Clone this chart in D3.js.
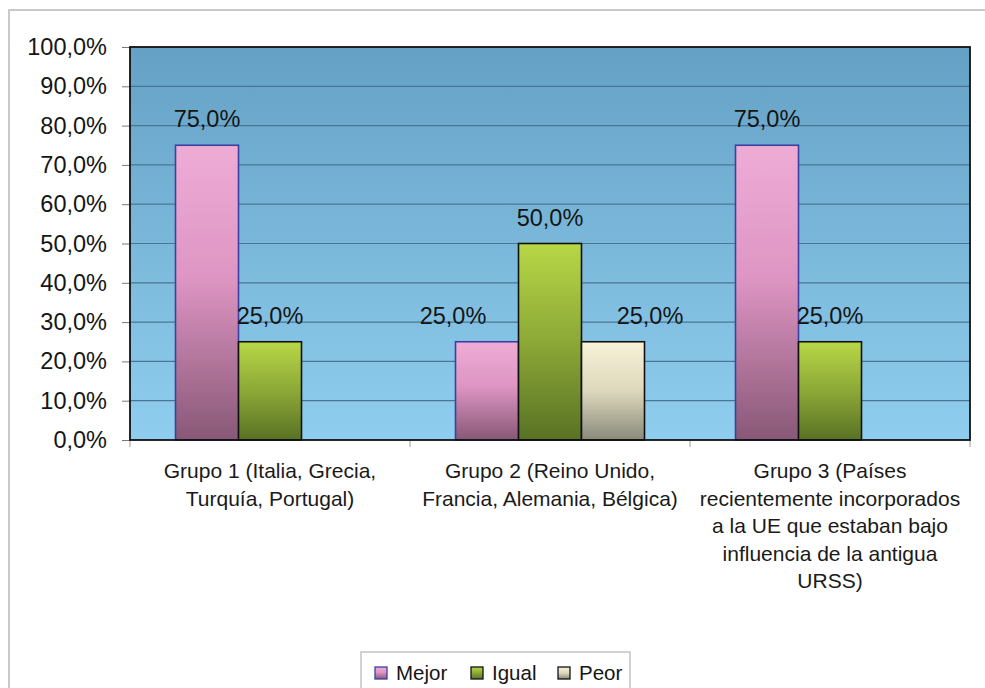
<!DOCTYPE html>
<html><head><meta charset="utf-8">
<script src="https://cdn.jsdelivr.net/npm/d3@7/dist/d3.min.js"></script>
<style>html,body{margin:0;padding:0;background:#fff;}svg{display:block;}</style>
</head><body><svg id="c" width="985" height="688"></svg>
<script>
const categories = [
  ["Grupo 1 (Italia, Grecia,", "Turquía, Portugal)"],
  ["Grupo 2 (Reino Unido,", "Francia, Alemania, Bélgica)"],
  ["Grupo 3 (Países", "recientemente incorporados", "a la UE que estaban bajo", "influencia de la antigua", "URSS)"]
];
const seriesNames = ["Mejor", "Igual", "Peor"];
const mejor = [75, 25, 75];
const igual = [25, 50, 25];
const peor = [0, 25, 0];
const yTicks = [0, 10, 20, 30, 40, 50, 60, 70, 80, 90, 100];

const series = [mejor, igual, peor];
const fmt = v => v.toFixed(1).replace(".", ",") + "%";
const font = "'Liberation Sans', Arial, sans-serif";

const svg = d3.select("#c");
const L = 130, R = 970, T = 47, B = 440;

// outer chart border
svg.append("rect").attr("x", 9).attr("y", 10).attr("width", 1000).attr("height", 700)
  .attr("fill", "#fff").attr("stroke", "#c9c9c9").attr("stroke-width", 2);

const defs = svg.append("defs");
const bg = defs.append("linearGradient").attr("id", "bg").attr("x1", 0).attr("y1", 0).attr("x2", 0).attr("y2", 1);
bg.append("stop").attr("offset", 0).attr("stop-color", "#64a1c4");
bg.append("stop").attr("offset", 1).attr("stop-color", "#90cef0");

const grads = [
  {id: "g0", stops: [["0", "#eeacd5"], ["0.45", "#de95c3"], ["1", "#885876"]], stroke: "#3b40a2"},
  {id: "g1", stops: [["0", "#b8d746"], ["0.5", "#8ca837"], ["1", "#597224"]], stroke: "#111"},
  {id: "g2", stops: [["0", "#f8f3d8"], ["0.5", "#ddd8bc"], ["1", "#8a8a7c"]], stroke: "#111"}
];
grads.forEach(g => {
  const lg = defs.append("linearGradient").attr("id", g.id).attr("x1", 0).attr("y1", 0).attr("x2", 0).attr("y2", 1);
  g.stops.forEach(s => lg.append("stop").attr("offset", s[0]).attr("stop-color", s[1]));
});

const x0 = d3.scaleBand().domain(d3.range(categories.length)).range([L, R]);
const y = d3.scaleLinear().domain([0, 100]).range([B, T]);
const barW = 63;
const x1 = d3.scaleBand().domain(d3.range(series.length)).range([-barW * 1.5, barW * 1.5]);

// plot area
svg.append("rect").attr("x", L).attr("y", T).attr("width", R - L).attr("height", B - T).attr("fill", "url(#bg)");

// gridlines
svg.append("g").selectAll("line").data(yTicks.filter(t => t > 0 && t < 100)).join("line")
  .attr("x1", L).attr("x2", R).attr("y1", d => y(d)).attr("y2", d => y(d))
  .attr("stroke", "#4a7690").attr("stroke-width", 1.2);

// y axis
const yAxis = svg.append("g").attr("transform", `translate(${L},0)`)
  .call(d3.axisLeft(y).tickValues(yTicks).tickFormat(fmt).tickSize(8).tickPadding(15));
yAxis.select(".domain").remove();
yAxis.selectAll(".tick line").attr("stroke", "#777");
yAxis.selectAll("text").attr("font-family", font).attr("font-size", 23.5).attr("fill", "#151515");

// x ticks
svg.append("g").selectAll("line").data(d3.range(categories.length + 1)).join("line")
  .attr("x1", d => L + d * x0.step()).attr("x2", d => L + d * x0.step())
  .attr("y1", B).attr("y2", B + 7).attr("stroke", "#999");

// bars
const labelShift = [[0, 0, 0], [-34, 0, 37], [0, 0, 0]];
categories.forEach((c, ci) => {
  const cx = x0(ci) + x0.bandwidth() / 2;
  series.forEach((s, si) => {
    const v = s[ci];
    if (v <= 0) return;
    svg.append("rect")
      .attr("x", cx + x1(si)).attr("y", y(v)).attr("width", x1.bandwidth()).attr("height", B - y(v))
      .attr("fill", `url(#${grads[si].id})`).attr("stroke", grads[si].stroke).attr("stroke-width", 1.6);
    svg.append("text")
      .attr("x", cx + x1(si) + x1.bandwidth() / 2 + labelShift[ci][si]).attr("y", y(v) - 18)
      .attr("text-anchor", "middle").attr("font-family", font).attr("font-size", 23.5).attr("fill", "#151515")
      .text(fmt(v));
  });
});

// plot border
svg.append("rect").attr("x", L).attr("y", T).attr("width", R - L).attr("height", B - T)
  .attr("fill", "none").attr("stroke", "#111").attr("stroke-width", 1.8);

// category labels
categories.forEach((lines, ci) => {
  const cx = x0(ci) + x0.bandwidth() / 2;
  const t = svg.append("text").attr("text-anchor", "middle").attr("font-family", font)
    .attr("font-size", 21).attr("fill", "#1a1a1a");
  lines.forEach((ln, li) => {
    t.append("tspan").attr("x", cx).attr("y", 478 + li * 27.5).text(ln);
  });
});

// legend
const lg = svg.append("g");
lg.append("rect").attr("x", 361).attr("y", 652).attr("width", 269).attr("height", 50)
  .attr("fill", "#fff").attr("stroke", "#b5b5b5").attr("stroke-width", 1.2);
const legX = [375, 471, 558];
seriesNames.forEach((n, i) => {
  lg.append("rect").attr("x", legX[i]).attr("y", 667).attr("width", 12).attr("height", 12)
    .attr("fill", `url(#${grads[i].id})`).attr("stroke", grads[i].stroke).attr("stroke-width", 1.3);
  lg.append("text").attr("x", legX[i] + 21).attr("y", 680).attr("font-family", font)
    .attr("font-size", 20.5).attr("fill", "#151515").text(n);
});
</script></body></html>
